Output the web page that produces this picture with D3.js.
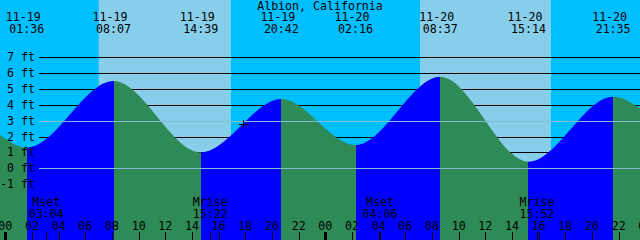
<!DOCTYPE html>
<html>
<head>
<meta charset="utf-8">
<script src="https://cdn.jsdelivr.net/npm/d3@7"></script>
<style>
  body { margin: 0; background: #fff; }
  text { font-family: "DejaVu Sans Mono", monospace; font-size: 11.6px; fill: #000; }
</style>
</head>
<body>
<div class="d3-chart"></div>
<script>
const width = 640;
const height = 240;

const title = "Albion, California";
const year = "2024";

// chart window (48 h)
const windowTimes = ["11-18 23:36", "11-20 23:36"];

// tide highs / lows
const tideTimes = ["11-19 01:36", "11-19 08:07", "11-19 14:39", "11-19 20:42",
                   "11-20 02:16", "11-20 08:37", "11-20 15:14", "11-20 21:35"];
const tideLevels = [1.3, 5.5, 1.0, 4.37, 1.47, 5.78, 0.42, 4.52];
const tideTypes = ["L", "H", "L", "H", "L", "H", "L", "H"];
// water level at the two chart edges
const edgeLevels = [2.1, 3.8];

// sunrise / sunset
const sunTimes = ["11-19 07:01", "11-19 16:55", "11-20 07:06", "11-20 16:55"];
const sunTypes = ["rise", "set", "rise", "set"];

// moon events
const moonTimes = ["11-19 03:04", "11-19 15:22", "11-20 04:06", "11-20 15:52"];
const moonLabels = ["Mset", "Mrise", "Mset", "Mrise"];

// current time marker
const nowTime = "11-19 17:51";
const nowLevel = 2.8;

// height axis
const ftTicks = [7, 6, 5, 4, 3, 2, 1, 0, -1];
const markLevels = [3, 0];   // MSL and datum drawn over the water

const parse = s => d3.timeParse("%Y-%m-%d %H:%M")(year + "-" + s);

const svg = d3.select(".d3-chart")
  .append("svg")
  .attr("width", width)
  .attr("height", height);

const x = d3.scaleTime()
  .domain(windowTimes.map(parse))
  .range([0, width]);

const y = d3.scaleLinear()
  .domain([0, 7])
  .range([168.3, 57.3]);

// sky: night / day bands
const sunDates = sunTimes.map(parse);
const skyEdges = [x.domain()[0], ...sunDates, x.domain()[1]];
const skyKinds = ["night", ...sunTypes.map(t => t === "rise" ? "day" : "night")];
svg.append("g")
  .selectAll("rect")
  .data(d3.range(skyEdges.length - 1))
  .join("rect")
  .attr("x", i => x(skyEdges[i]))
  .attr("y", 0)
  .attr("width", i => x(skyEdges[i + 1]) - x(skyEdges[i]))
  .attr("height", height)
  .attr("fill", i => skyKinds[i] === "day" ? "#87ceeb" : "#00bfff");

// grid lines behind the water
const lineStart = 39;
svg.append("g")
  .attr("shape-rendering", "crispEdges")
  .selectAll("line")
  .data(ftTicks.filter(d => !markLevels.includes(d)))
  .join("line")
  .attr("x1", lineStart)
  .attr("x2", width)
  .attr("y1", d => Math.round(y(d)) + 0.5)
  .attr("y2", d => Math.round(y(d)) + 0.5)
  .attr("stroke", "#000");

// tide curve
const points = [
  {t: x.domain()[0], v: edgeLevels[0]},
  ...tideTimes.map((s, i) => ({t: parse(s), v: tideLevels[i], type: tideTypes[i]})),
  {t: x.domain()[1], v: edgeLevels[1]}
];

const area = d3.area()
  .x(d => x(d.t))
  .y0(height)
  .y1(d => y(d.v))
  .curve(d3.curveMonotoneX);

svg.append("clipPath")
  .attr("id", "water")
  .append("path")
  .attr("d", area(points));

// rising water blue, falling water green
svg.append("g")
  .attr("clip-path", "url(#water)")
  .attr("shape-rendering", "crispEdges")
  .selectAll("rect")
  .data(d3.range(points.length - 1))
  .join("rect")
  .attr("x", i => x(points[i].t))
  .attr("y", 0)
  .attr("width", i => x(points[i + 1].t) - x(points[i].t))
  .attr("height", height)
  .attr("fill", i => {
    const next = points[i + 1];
    const rising = next.type ? next.type === "H" : points[i].type === "L";
    return rising ? "#0000ff" : "#2e8b57";
  });

// datum and MSL lines over the water
svg.append("g")
  .attr("shape-rendering", "crispEdges")
  .selectAll("line")
  .data(markLevels)
  .join("line")
  .attr("x1", lineStart)
  .attr("x2", width)
  .attr("y1", d => Math.round(y(d)) + 0.5)
  .attr("y2", d => Math.round(y(d)) + 0.5)
  .attr("stroke", "#80bcd6");

// height labels
svg.append("g")
  .selectAll("text")
  .data(ftTicks)
  .join("text")
  .attr("x", 35)
  .attr("y", d => y(d) + 4)
  .attr("text-anchor", "end")
  .text(d => d + " ft");

// title
svg.append("text")
  .attr("x", width / 2)
  .attr("y", 10)
  .attr("text-anchor", "middle")
  .text(title);

// tide event labels at top
const tideLabels = svg.append("g")
  .selectAll("g")
  .data(tideTimes.map(parse))
  .join("g")
  .attr("transform", d => `translate(${x(d)},0)`);

tideLabels.append("text")
  .attr("x", -3.5)
  .attr("y", 21)
  .attr("text-anchor", "middle")
  .text(d3.timeFormat("%m-%d"));

tideLabels.append("text")
  .attr("y", 33)
  .attr("text-anchor", "middle")
  .text(d3.timeFormat("%H:%M"));

// moon labels
const moonDates = moonTimes.map(parse);
const moonG = svg.append("g")
  .selectAll("g")
  .data(moonDates)
  .join("g")
  .attr("transform", d => `translate(${x(d)},0)`);

moonG.append("text")
  .attr("y", 206)
  .attr("text-anchor", "middle")
  .text((d, i) => moonLabels[i]);

moonG.append("text")
  .attr("y", 218)
  .attr("text-anchor", "middle")
  .text(d3.timeFormat("%H:%M"));

// hour axis
const hours = x.ticks(d3.timeHour.every(2));
const extraHours = [d3.timeHour.offset(x.domain()[1], 24 - x.domain()[1].getHours())];

svg.append("g")
  .selectAll("text")
  .data(hours.concat(d3.timeDay.ceil(x.domain()[1])))
  .join("text")
  .attr("x", d => x(d))
  .attr("y", 230)
  .attr("text-anchor", "middle")
  .text(d3.timeFormat("%H"));

const tickG = svg.append("g").attr("shape-rendering", "crispEdges");
tickG.selectAll("rect")
  .data(hours.concat(moonDates))
  .join("rect")
  .attr("x", d => {
    const midnight = d.getHours() === 0 && d.getMinutes() === 0;
    return Math.round(x(d)) - (midnight ? 1.5 : 0.5);
  })
  .attr("y", 232)
  .attr("width", d => d.getHours() === 0 && d.getMinutes() === 0 ? 3 : 1)
  .attr("height", 8)
  .attr("fill", "#000");

// now marker
const nx = Math.round(x(parse(nowTime)));
const ny = Math.round(y(nowLevel));
svg.append("path")
  .attr("d", `M${nx - 4},${ny + 0.5}h9M${nx + 0.5},${ny - 4}v8`)
  .attr("stroke", "#000")
  .attr("shape-rendering", "crispEdges");
</script>
</body>
</html>
